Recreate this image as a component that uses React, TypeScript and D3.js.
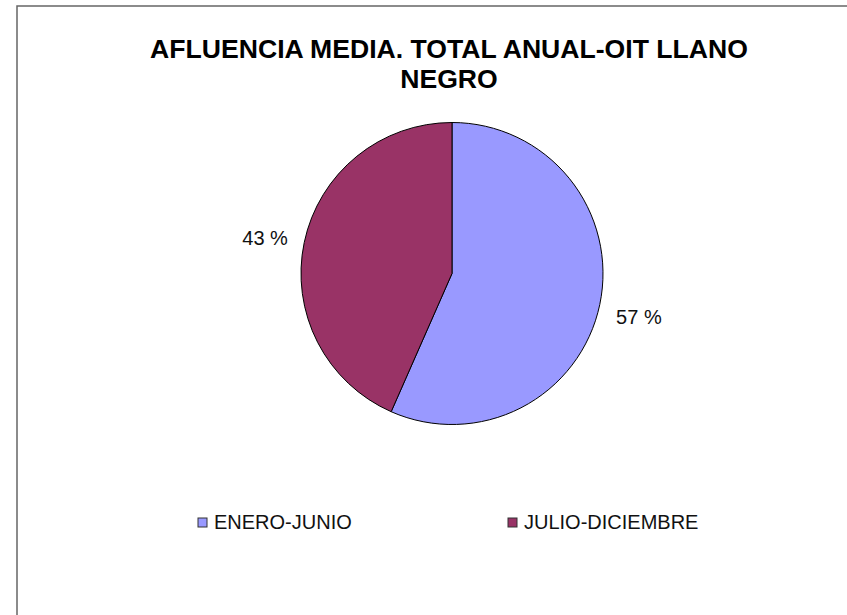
import { useEffect, useRef } from "react";
import * as d3 from "d3";

const categories = ["ENERO-JUNIO", "JULIO-DICIEMBRE"];
const shares = [56.6, 43.4];
const colors = ["#9999FF", "#993366"];
const titleLines = ["AFLUENCIA MEDIA. TOTAL ANUAL-OIT LLANO", "NEGRO"];

const App = () => {
  const ref = useRef<SVGSVGElement>(null);

  useEffect(() => {
    const width = 847;
    const height = 615;
    const cx = 452;
    const cy = 273.5;
    const radius = 151;

    const svg = d3.select(ref.current);
    svg.selectAll("*").remove();

    // chart frame (runs off the right and bottom edges)
    svg
      .append("rect")
      .attr("x", 17)
      .attr("y", 6)
      .attr("width", width + 50)
      .attr("height", height + 50)
      .attr("fill", "#fff")
      .attr("stroke", "#666")
      .attr("stroke-width", 1.5);

    svg
      .append("g")
      .selectAll("text")
      .data(titleLines)
      .enter()
      .append("text")
      .attr("x", 449)
      .attr("y", (_, i) => 58 + i * 30)
      .attr("text-anchor", "middle")
      .attr("font-family", "Liberation Sans, Arial, sans-serif")
      .attr("font-weight", "bold")
      .attr("font-size", 26.6)
      .attr("fill", "#000")
      .text((d) => d);

    const data = categories.map((c, i) => ({ label: c, value: shares[i], color: colors[i] }));
    const pie = d3
      .pie<(typeof data)[number]>()
      .sort(null)
      .value((d) => d.value);
    const arcs = pie(data);
    const arc = d3.arc<d3.PieArcDatum<(typeof data)[number]>>().innerRadius(0).outerRadius(radius);
    const labelArc = d3
      .arc<d3.PieArcDatum<(typeof data)[number]>>()
      .innerRadius(radius + 40)
      .outerRadius(radius + 40);

    const total = d3.sum(shares);
    const g = svg.append("g").attr("transform", `translate(${cx},${cy})`);
    g.selectAll("path")
      .data(arcs)
      .enter()
      .append("path")
      .attr("d", arc)
      .attr("fill", (d) => d.data.color)
      .attr("stroke", "#000")
      .attr("stroke-width", 1);

    g.selectAll("text")
      .data(arcs)
      .enter()
      .append("text")
      .attr("transform", (d) => {
        const [x, y] = labelArc.centroid(d);
        return `translate(${x},${y + 4})`;
      })
      .attr("text-anchor", "middle")
      .attr("dy", "0.35em")
      .attr("font-family", "Liberation Sans, Arial, sans-serif")
      .attr("font-size", 20)
      .attr("fill", "#111")
      .text((d) => `${Math.round((d.data.value / total) * 100)} %`);

    // legend
    const legendX = [198, 508];
    const legend = svg
      .append("g")
      .selectAll("g")
      .data(data)
      .enter()
      .append("g")
      .attr("transform", (_, i) => `translate(${legendX[i]},518)`);
    legend
      .append("rect")
      .attr("width", 9)
      .attr("height", 9)
      .attr("fill", (d) => d.color)
      .attr("stroke", "#333")
      .attr("stroke-width", 1);
    legend
      .append("text")
      .attr("x", 16)
      .attr("y", 11)
      .attr("font-family", "Liberation Sans, Arial, sans-serif")
      .attr("font-size", 20)
      .attr("fill", "#111")
      .text((d) => d.label);
  }, []);

  return (
    <svg
      ref={ref}
      width={847}
      height={615}
      style={{ position: "absolute", left: 0, top: 0 }}
    />
  );
};

export default App;
